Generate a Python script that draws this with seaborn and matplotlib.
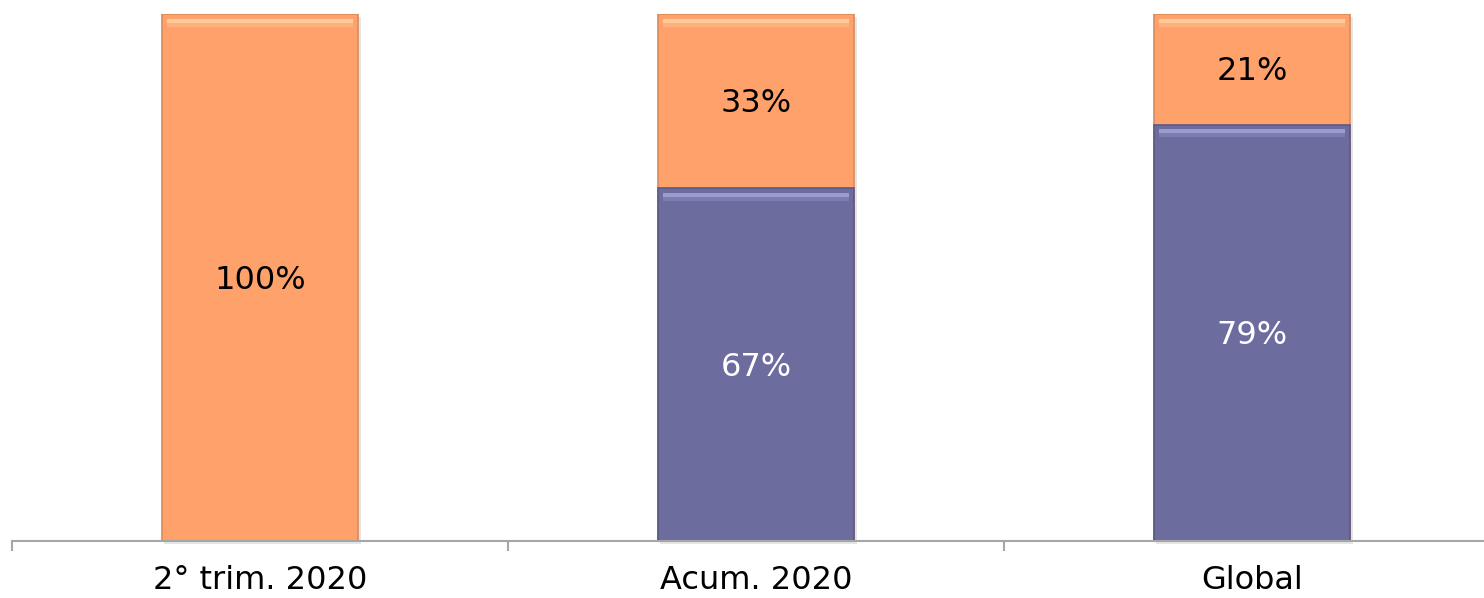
import matplotlib
matplotlib.use("Agg")
import matplotlib.pyplot as plt
from matplotlib.patches import Rectangle
import numpy as np
import pandas as pd
import seaborn as sns

categories = ["2° trim. 2020", "Acum. 2020", "Global"]
purple_share = [0, 67, 79]
orange_share = [100, 33, 21]

ORANGE = "#FEA16B"
PURPLE = "#6C6C9F"
AXIS_GRAY = "#A6A6A6"

sns.set_theme(style="white")
plt.rcParams["font.family"] = ["DejaVu Sans"]

fig = plt.figure(figsize=(14.84, 5.98), dpi=100)
W, H = 1484, 598
ax = fig.add_axes([12 / W, 57 / H, 1488 / W, 527 / H])

df = pd.DataFrame({
    "category": categories,
    "purple": purple_share,
    "orange": orange_share,
})
df["total"] = df["purple"] + df["orange"]

bar_w = 0.397
sns.barplot(data=df, x="category", y="total", color=ORANGE, width=bar_w,
            saturation=1, ax=ax, edgecolor="#D98A5A", linewidth=1.2, zorder=3)
sns.barplot(data=df, x="category", y="purple", color=PURPLE, width=bar_w,
            saturation=1, ax=ax, edgecolor="#5A5A86", linewidth=1.2, zorder=4)

# Bevel highlight along the top of each segment, plus a soft drop shadow
ax.set_ylim(0, 100)
ax.set_xlim(-0.5, 2.5)
strip = 0.75
for i, (p, o) in enumerate(zip(purple_share, orange_share)):
    x0 = i - bar_w / 2
    segs = []
    if p > 0:
        segs.append((p, "#A4A4D8"))
    if o > 0:
        segs.append((p + o, "#FFD3A8"))
    for hi, light in segs:
        ax.add_patch(Rectangle((x0 + 0.01, hi - 2.2 * strip), bar_w - 0.02, strip,
                               facecolor=light, edgecolor="none", alpha=0.85, zorder=5))
        ax.add_patch(Rectangle((x0 + 0.01, hi - 3.2 * strip), bar_w - 0.02, strip,
                               facecolor=light, edgecolor="none", alpha=0.3, zorder=5))
    ax.add_patch(Rectangle((x0 + 0.005, -0.5), bar_w, p + o,
                           facecolor="#000000", alpha=0.10, edgecolor="none", zorder=2,
                           clip_on=False))

# Value labels centered in each segment
for i, (p, o) in enumerate(zip(purple_share, orange_share)):
    if p > 0:
        ax.text(i, p / 2 - 0.5, f"{p}%", ha="center", va="center", fontsize=23,
                color="white", zorder=6)
    if o > 0:
        ax.text(i, p + o / 2 - 0.5, f"{o}%", ha="center", va="center", fontsize=23,
                color="black", zorder=6)

for s in ["top", "right", "left"]:
    ax.spines[s].set_visible(False)
ax.spines["bottom"].set_color(AXIS_GRAY)
ax.spines["bottom"].set_linewidth(1.5)
ax.spines["bottom"].set_zorder(7)

ax.set_yticks([])
ax.set_xlabel("")
ax.set_ylabel("")
ax.set_xticks(range(len(categories)))
ax.set_xticklabels(categories, fontsize=23, color="black")
ax.tick_params(axis="x", which="major", length=0, pad=17)
ax.set_xticks(np.arange(-0.5, len(categories), 1.0), minor=True)
ax.tick_params(axis="x", which="minor", length=7, width=1.5, color=AXIS_GRAY,
               direction="out", bottom=True)

fig.savefig("out.png", dpi=100)
